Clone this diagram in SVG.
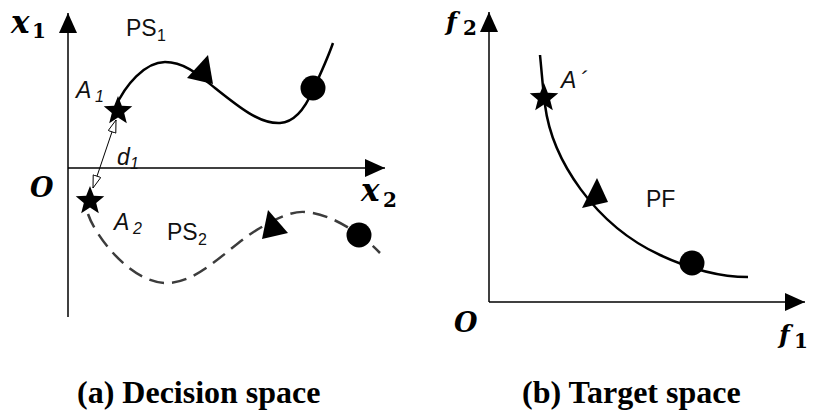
<svg xmlns="http://www.w3.org/2000/svg" xmlns:xlink="http://www.w3.org/1999/xlink" width="814" height="412" viewBox="0 0 814 412">
<style>
.axis{stroke:#000;stroke-width:1.5;fill:none}
.curve{stroke:#000;stroke-width:2.5;fill:none}
.dash{stroke:#3c3c3c;stroke-width:2.5;fill:none;stroke-dasharray:15 8}
.dot{fill:#000}
.tri{fill:#000}
.lab{font-family:"Liberation Sans",Arial,sans-serif;font-size:23px;fill:#111}
.sub{font-family:"Liberation Sans",Arial,sans-serif;font-size:16px;fill:#111}
.it{font-style:italic}
.math{font-family:"DejaVu Serif","Liberation Serif",serif;font-weight:bold;font-style:italic;fill:#000}
.msub{font-family:"DejaVu Serif","Liberation Serif",serif;font-weight:bold;font-size:20px;fill:#000}
.cap{font-family:"Liberation Serif","Times New Roman",serif;font-weight:bold;font-size:32px;fill:#000}
</style>
<defs>
<marker id="ah" markerUnits="userSpaceOnUse" markerWidth="20" markerHeight="18" refX="20" refY="9" orient="auto"><path d="M0,0 L20,9 L0,18 z" fill="#000"/></marker>
<marker id="hollow" markerUnits="userSpaceOnUse" markerWidth="14" markerHeight="10" refX="13" refY="4.5" orient="auto-start-reverse"><path d="M0.5,0.5 L13,4.5 L0.5,8.5 z" fill="#fff" stroke="#000" stroke-width="0.9"/></marker>
<polygon id="star" points="0,-15 3.82,-5.26 14.27,-4.64 6.18,2.01 8.82,12.14 0,6.5 -8.82,12.14 -6.18,2.01 -14.27,-4.64 -3.82,-5.26" fill="#000"/>
</defs>

<g id="panel-a">
  <g id="axes-a">
    <line class="axis" x1="68" y1="317" x2="68" y2="13" marker-end="url(#ah)"/>
    <line class="axis" x1="68" y1="168" x2="385" y2="168" marker-end="url(#ah)"/>
    <text class="math" x="11" y="33" font-size="31">x</text>
    <text class="msub" x="32" y="38">1</text>
    <text class="math" x="361" y="201" font-size="31">x</text>
    <text class="msub" x="383" y="207">2</text>
    <text class="math" x="30" y="197" font-size="27">O</text>
  </g>
  <g id="connectors">
    <path id="ps1" class="curve" d="M115,108 C125,85 145,62 165,62 C185,62 200,76 215,88 C240,108 260,124 280,123 C297,122 307,104 313,90 C320,75 327,60 333,43"/>
    <path id="ps2" class="dash" d="M88,214 C95,235 130,283 167,283 C200,283 230,245 260,228 C280,216 295,211 305,212 C325,213 345,225 358,234 C368,241 375,248 380,253"/>
    <line id="d1-line" x1="93" y1="188" x2="116" y2="120" stroke="#000" stroke-width="1" marker-start="url(#hollow)" marker-end="url(#hollow)"/>
    <polygon class="tri" points="208,55 187,78 213,84"/>
    <polygon class="tri" points="268,210 262,239 288,233"/>
  </g>
  <g id="A1">
    <use xlink:href="#star" href="#star" x="118" y="111"/>
    <text class="lab it" x="76" y="98">A</text>
    <text class="sub it" x="95" y="102">1</text>
  </g>
  <g id="A2">
    <use xlink:href="#star" href="#star" x="90" y="201"/>
    <text class="lab it" x="114" y="230">A</text>
    <text class="sub it" x="133" y="234">2</text>
  </g>
  <g id="d1">
    <text class="lab it" x="117" y="165">d</text>
    <text class="sub it" x="130" y="169">1</text>
  </g>
  <g id="end1"><circle class="dot" cx="313" cy="88" r="12.5"/></g>
  <g id="end2"><circle class="dot" cx="359" cy="235" r="12.5"/></g>
  <g id="PS1">
    <text class="lab" x="126" y="36">PS</text>
    <text class="sub" x="157" y="41">1</text>
  </g>
  <g id="PS2">
    <text class="lab" x="167" y="240">PS</text>
    <text class="sub" x="198" y="245">2</text>
  </g>
  <text class="cap" x="77" y="403">(a) Decision space</text>
</g>

<g id="panel-b">
  <g id="axes-b">
    <line class="axis" x1="489" y1="302" x2="489" y2="12" marker-end="url(#ah)"/>
    <line class="axis" x1="489" y1="302" x2="805" y2="302" marker-end="url(#ah)"/>
    <text class="math" x="446" y="30" font-size="25">f</text>
    <text class="msub" x="463" y="35">2</text>
    <text class="math" x="779" y="343" font-size="25">f</text>
    <text class="msub" x="794" y="348">1</text>
    <text class="math" x="454" y="332" font-size="27">O</text>
  </g>
  <g id="connectors-b">
    <path id="pf" class="curve" d="M540,55 C542,75 543,90 545,105 C552,160 595,225 660,255 C688,268 720,277 748,277"/>
    <polygon class="tri" points="582,208 597,178 608,202"/>
  </g>
  <g id="Aprime">
    <use xlink:href="#star" href="#star" x="544" y="98"/>
    <text class="lab it" x="561" y="88">A</text>
    <text class="lab it" x="580" y="88">´</text>
  </g>
  <g id="endpf"><circle class="dot" cx="692" cy="263" r="12.5"/></g>
  <g id="PF"><text class="lab" x="646" y="207" font-size="24">PF</text></g>
  <text class="cap" x="522" y="403">(b) Target space</text>
</g>
</svg>
